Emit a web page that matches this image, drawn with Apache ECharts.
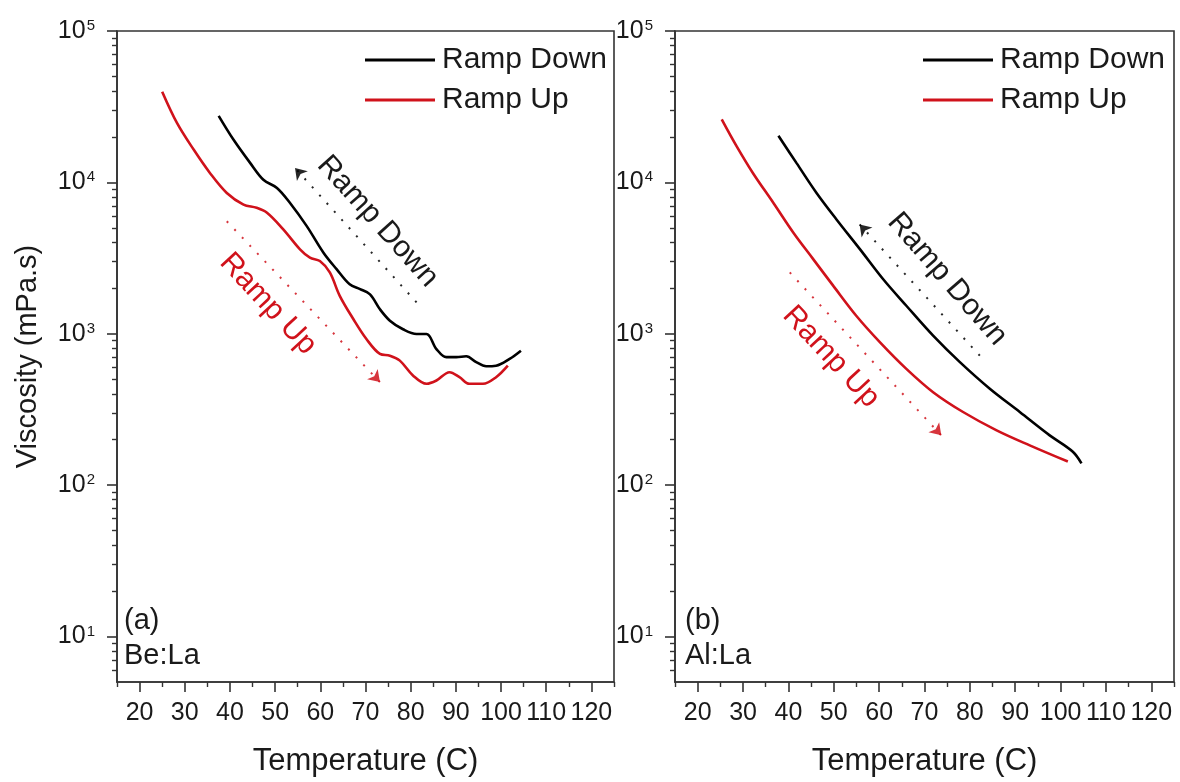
<!DOCTYPE html>
<html>
<head>
<meta charset="utf-8">
<script src="https://cdn.jsdelivr.net/npm/echarts@6/dist/echarts.min.js"></script>
<style>
  html, body { margin: 0; padding: 0; background: #ffffff; }
  #chart { width: 1180px; height: 782px; }
</style>
</head>
<body>
<div id="chart"></div>
<script>
// ---- Be:La (panel a) ----
const beDownTemp = [37.5, 40.8, 44.5, 47.4, 50.4, 53.3, 57.0, 60.7, 63.6, 66.5, 68.8, 71.0, 73.2, 75.4, 78.3, 81.3, 83.5, 85.7, 87.9, 90.1, 92.3, 94.5, 96.7, 98.9, 101.9, 104.4];
const beDownVisc = [27500, 19100, 13400, 10400, 9190, 7310, 5140, 3430, 2670, 2120, 1970, 1820, 1450, 1220, 1070, 995, 995, 792, 700, 700, 710, 649, 610, 615, 682, 773];
const beUpTemp = [25.0, 28.3, 32.0, 35.6, 39.3, 43.0, 45.9, 48.2, 51.8, 55.5, 57.7, 59.9, 62.1, 64.3, 67.3, 70.2, 73.2, 75.4, 77.6, 80.5, 83.5, 85.7, 88.6, 90.8, 93.0, 96.0, 98.9, 101.5];
const beUpVisc = [39700, 24600, 16400, 11500, 8510, 7130, 6790, 6300, 4890, 3610, 3180, 3020, 2540, 1780, 1250, 923, 735, 716, 664, 530, 467, 491, 557, 516, 467, 467, 516, 615];

// ---- Al:La (panel b) ----
const alDownTemp = [37.8, 41.8, 46.2, 50.6, 55.8, 60.9, 66.0, 71.9, 77.8, 84.4, 91.0, 97.6, 102.7, 104.6];
const alDownVisc = [20300, 13400, 8510, 5690, 3610, 2290, 1530, 971, 649, 433, 304, 213, 166, 139];
const alUpTemp = [25.3, 28.6, 32.2, 36.7, 41.1, 45.5, 49.9, 55.0, 60.2, 66.0, 71.9, 78.5, 85.9, 93.2, 101.6];
const alUpVisc = [26100, 17300, 11500, 7310, 4650, 3100, 2070, 1310, 877, 586, 411, 304, 230, 183, 143];

// Direction arrows: [temperature, viscosity] of tail and head
const beDownArrow = [[81.3, 1610], [54.4, 12450]];
const beUpArrow = [[39.3, 5530], [73.2, 479]];
const alDownArrow = [[82.2, 716], [55.7, 5270]];
const alUpArrow = [[40.3, 2540], [73.7, 213]];

// Rotated direction captions: [temperature, viscosity] of the text centre
const beDownNote = [72.7, 5510];
const beUpNote = [48.4, 1570];
const alDownNote = [75.0, 2290];
const alUpNote = [49.4, 703];

// Axis ticks
const tempTicks = [20, 30, 40, 50, 60, 70, 80, 90, 100, 110, 120];
const tempMinorTicks = [15, 25, 35, 45, 55, 65, 75, 85, 95, 105, 115, 125];
const viscTicks = [10, 100, 1000, 10000, 100000];
const viscMinorTicks = [6, 7, 8, 9];
viscTicks.slice(0, 4).forEach(function (d) {
  for (let k = 2; k <= 9; k++) viscMinorTicks.push(k * d);
});

const seriesNames = ['Ramp Down', 'Ramp Up'];
const panelTags = [['(a)', 'Be:La'], ['(b)', 'Al:La']];

const FONT = "'Liberation Sans', Arial, Helvetica, sans-serif";
const AXIS_COLOR = '#333333';
const TEXT_COLOR = '#1a1a1a';
const BLACK = '#000000';
const RED = '#d0121b';

function zip(xs, ys) { return xs.map(function (x, i) { return [x, ys[i]]; }); }

function xAxesFor(gi) {
  return [
    {
      type: 'value', gridIndex: gi, position: 'bottom', min: 15, max: 125,
      name: 'Temperature (C)', nameLocation: 'middle', nameGap: 64,
      nameTextStyle: { fontSize: 31, color: TEXT_COLOR, fontFamily: FONT },
      axisLine: { show: true, onZero: false, lineStyle: { color: AXIS_COLOR, width: 1.6 } },
      axisTick: { show: true, inside: false, length: 10, customValues: tempTicks, lineStyle: { color: AXIS_COLOR, width: 1.6 } },
      axisLabel: { show: true, customValues: tempTicks, fontSize: 25, margin: 19, color: TEXT_COLOR, fontFamily: FONT },
      splitLine: { show: false }
    },
    {
      type: 'value', gridIndex: gi, position: 'bottom', min: 15, max: 125,
      axisLine: { show: false, onZero: false },
      axisTick: { show: true, inside: false, length: 5, customValues: tempMinorTicks, lineStyle: { color: AXIS_COLOR, width: 1.4 } },
      axisLabel: { show: false },
      splitLine: { show: false }
    }
  ];
}

function yAxesFor(gi, withName) {
  return [
    {
      type: 'log', logBase: 10, gridIndex: gi, position: 'left', min: 5, max: 100000,
      name: withName ? 'Viscosity (mPa.s)' : '', nameLocation: 'middle', nameGap: 75,
      nameTextStyle: { fontSize: 29, color: TEXT_COLOR, fontFamily: FONT },
      axisLine: { show: true, onZero: false, lineStyle: { color: AXIS_COLOR, width: 1.6 } },
      axisTick: { show: true, inside: false, length: 10, customValues: viscTicks, lineStyle: { color: AXIS_COLOR, width: 1.6 } },
      axisLabel: {
        show: true, customValues: viscTicks, margin: 22, color: TEXT_COLOR, fontFamily: FONT, fontSize: 25,
        formatter: function (v) { return '10{sup|' + Math.round(Math.log10(v)) + '}'; },
        rich: { sup: { fontSize: 15, verticalAlign: 'top', color: TEXT_COLOR, fontFamily: FONT, padding: [0, 0, 0, 1] } }
      },
      splitLine: { show: false }
    },
    {
      type: 'log', logBase: 10, gridIndex: gi, position: 'left', min: 5, max: 100000,
      axisLine: { show: false, onZero: false },
      axisTick: { show: true, inside: false, length: 5, customValues: viscMinorTicks, lineStyle: { color: AXIS_COLOR, width: 1.4 } },
      axisLabel: { show: false },
      splitLine: { show: false }
    }
  ];
}

function curve(name, gi, temps, viscs, color) {
  return {
    name: name, type: 'line', xAxisIndex: gi * 2, yAxisIndex: gi * 2,
    data: zip(temps, viscs), showSymbol: false, symbol: 'none', smooth: 0.35,
    lineStyle: { color: color, width: 2.6 }, itemStyle: { color: color },
    silent: true, z: 4
  };
}

function arrow(gi, ends, color) {
  return {
    type: 'lines', coordinateSystem: 'cartesian2d', xAxisIndex: gi * 2, yAxisIndex: gi * 2,
    symbol: ['none', 'arrow'], symbolSize: 11, silent: true, z: 3,
    lineStyle: { color: color, width: 2, type: [2, 9], opacity: 0.85, curveness: 0 },
    data: [{ coords: ends }]
  };
}

function note(gi, at, text, color, angle) {
  return {
    type: 'scatter', xAxisIndex: gi * 2, yAxisIndex: gi * 2,
    symbolSize: 0, silent: true, z: 5,
    itemStyle: { opacity: 1, color: color },
    data: [{ value: at }],
    label: {
      show: true, position: 'inside', formatter: text, rotate: angle, opacity: 1,
      fontSize: 30, color: color, fontFamily: FONT, align: 'center', verticalAlign: 'middle'
    }
  };
}

function legendFor(left) {
  return {
    data: seriesNames, orient: 'vertical', left: left, top: 40,
    icon: 'rect', itemWidth: 70, itemHeight: 3, itemGap: 10,
    selectedMode: false,
    textStyle: { fontSize: 30, lineHeight: 30, color: TEXT_COLOR, fontFamily: FONT, padding: [0, 0, 0, 2] }
  };
}

const grids = [
  { left: 117, right: 566, top: 31, bottom: 98, show: true, borderColor: AXIS_COLOR, borderWidth: 1.6, backgroundColor: 'transparent' },
  { left: 675, right: 6, top: 31, bottom: 98, show: true, borderColor: AXIS_COLOR, borderWidth: 1.6, backgroundColor: 'transparent' }
];

const graphics = [];
[124, 685].forEach(function (x, gi) {
  graphics.push({ type: 'text', left: x, top: 606, style: { text: panelTags[gi][0], fontSize: 29, fill: TEXT_COLOR, fontFamily: FONT } });
  graphics.push({ type: 'text', left: x, top: 641, style: { text: panelTags[gi][1], fontSize: 29, fill: TEXT_COLOR, fontFamily: FONT } });
});

const option = {
  animation: false,
  backgroundColor: '#ffffff',
  textStyle: { fontFamily: FONT },
  grid: grids,
  xAxis: xAxesFor(0).concat(xAxesFor(1)),
  yAxis: yAxesFor(0, true).concat(yAxesFor(1, false)),
  legend: [legendFor(360), legendFor(918)],
  graphic: graphics,
  series: [
    curve('Ramp Down', 0, beDownTemp, beDownVisc, BLACK),
    curve('Ramp Up', 0, beUpTemp, beUpVisc, RED),
    curve('Ramp Down', 1, alDownTemp, alDownVisc, BLACK),
    curve('Ramp Up', 1, alUpTemp, alUpVisc, RED),
    arrow(0, beDownArrow, BLACK),
    arrow(0, beUpArrow, RED),
    arrow(1, alDownArrow, BLACK),
    arrow(1, alUpArrow, RED),
    note(0, beDownNote, 'Ramp Down', TEXT_COLOR, -48),
    note(0, beUpNote, 'Ramp Up', RED, -47),
    note(1, alDownNote, 'Ramp Down', TEXT_COLOR, -49),
    note(1, alUpNote, 'Ramp Up', RED, -47)
  ]
};

const chart = echarts.init(document.getElementById('chart'), null, { renderer: 'canvas' });
chart.setOption(option);
</script>
</body>
</html>
